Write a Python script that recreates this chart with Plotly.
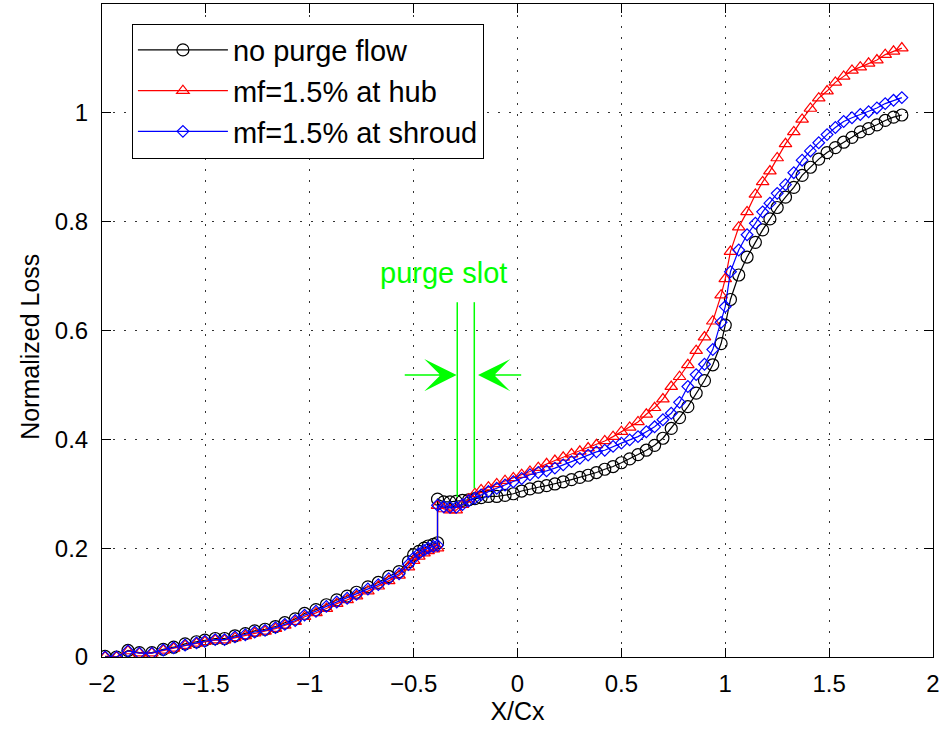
import plotly.graph_objects as go

# shared streamwise stations (X/Cx); the slot step appears twice at x=-0.385
x_pos = [-1.985, -1.93, -1.875, -1.82, -1.76, -1.705, -1.655, -1.60, -1.545, -1.505,
         -1.455, -1.41, -1.36, -1.31, -1.265, -1.215, -1.165, -1.12, -1.07, -1.025,
         -0.97, -0.92, -0.87, -0.82, -0.775, -0.72, -0.67, -0.62, -0.57, -0.525,
         -0.50, -0.475, -0.45, -0.43, -0.405, -0.385,
         -0.385, -0.355, -0.325, -0.295, -0.265, -0.235, -0.205, -0.175, -0.14, -0.10,
         -0.06, -0.02, 0.02, 0.06, 0.10, 0.14, 0.18, 0.22, 0.26, 0.30,
         0.34, 0.38, 0.42, 0.46, 0.50, 0.54, 0.58, 0.62, 0.66, 0.70,
         0.74, 0.78, 0.82, 0.86, 0.90, 0.94, 0.98, 1.00, 1.025, 1.065,
         1.105, 1.145, 1.18, 1.215, 1.25, 1.29, 1.33, 1.37, 1.41, 1.45,
         1.49, 1.53, 1.57, 1.61, 1.65, 1.69, 1.73, 1.77, 1.81, 1.85]

loss_no_purge = [0.001, 0.0, 0.012, 0.008, 0.008, 0.014, 0.018, 0.024, 0.028, 0.031,
                 0.034, 0.034, 0.039, 0.043, 0.048, 0.051, 0.056, 0.063, 0.070, 0.080,
                 0.087, 0.096, 0.105, 0.112, 0.119, 0.129, 0.137, 0.148, 0.157, 0.175,
                 0.188, 0.194, 0.200, 0.204, 0.207, 0.210,
                 0.290, 0.285, 0.285, 0.286, 0.288, 0.289, 0.291, 0.293, 0.295, 0.295,
                 0.297, 0.300, 0.305, 0.309, 0.312, 0.315, 0.318, 0.322, 0.326, 0.330,
                 0.334, 0.339, 0.345, 0.350, 0.357, 0.364, 0.372, 0.380, 0.389, 0.402,
                 0.420, 0.440, 0.460, 0.485, 0.508, 0.537, 0.576, 0.610, 0.657, 0.702,
                 0.735, 0.762, 0.785, 0.805, 0.826, 0.845, 0.863, 0.885, 0.900, 0.915,
                 0.927, 0.936, 0.946, 0.955, 0.965, 0.971, 0.978, 0.986, 0.992, 0.996]

loss_hub = [0.0, 0.0, 0.011, 0.007, 0.007, 0.012, 0.016, 0.021, 0.025, 0.028,
            0.031, 0.031, 0.035, 0.039, 0.044, 0.047, 0.052, 0.058, 0.065, 0.074,
            0.081, 0.089, 0.098, 0.105, 0.112, 0.121, 0.130, 0.140, 0.150, 0.165,
            0.177, 0.185, 0.191, 0.195, 0.198, 0.200,
            0.278, 0.272, 0.270, 0.270, 0.280, 0.290, 0.300, 0.307, 0.312, 0.318,
            0.324, 0.329, 0.335, 0.341, 0.348, 0.355, 0.361, 0.367, 0.373, 0.378,
            0.384, 0.390, 0.397, 0.405, 0.414, 0.422, 0.432, 0.446, 0.458, 0.474,
            0.497, 0.515, 0.537, 0.563, 0.588, 0.617, 0.665, 0.695, 0.745, 0.790,
            0.818, 0.850, 0.873, 0.893, 0.917, 0.943, 0.965, 0.988, 1.008, 1.027,
            1.040, 1.056, 1.067, 1.078, 1.084, 1.091, 1.097, 1.107, 1.113, 1.119]

loss_shroud = [0.0, 0.0, 0.011, 0.007, 0.007, 0.013, 0.017, 0.022, 0.026, 0.029,
               0.032, 0.032, 0.037, 0.041, 0.046, 0.049, 0.054, 0.060, 0.067, 0.077,
               0.084, 0.093, 0.101, 0.108, 0.115, 0.125, 0.133, 0.144, 0.153, 0.170,
               0.182, 0.190, 0.196, 0.200, 0.203, 0.205,
               0.279, 0.276, 0.275, 0.275, 0.280, 0.287, 0.292, 0.298, 0.304, 0.310,
               0.316, 0.322, 0.328, 0.335, 0.339, 0.342, 0.347, 0.353, 0.359, 0.365,
               0.371, 0.377, 0.380, 0.387, 0.393, 0.399, 0.405, 0.414, 0.423, 0.436,
               0.448, 0.468, 0.497, 0.519, 0.538, 0.565, 0.615, 0.644, 0.708, 0.748,
               0.776, 0.797, 0.818, 0.834, 0.852, 0.868, 0.890, 0.913, 0.930, 0.945,
               0.960, 0.973, 0.984, 0.991, 0.997, 1.002, 1.009, 1.017, 1.023, 1.028]

series_names = ["no purge flow", "mf=1.5% at hub", "mf=1.5% at shroud"]
x_ticks = [-2, -1.5, -1, -0.5, 0, 0.5, 1, 1.5, 2]
y_ticks = [0, 0.2, 0.4, 0.6, 0.8, 1]

# purge slot annotation (data coordinates)
slot_edges = [-0.29, -0.208]
slot_top = 0.652
slot_bottoms = [0.294, 0.31]
arrow_y = 0.518
arrow_tips = [-0.293, -0.19]
arrow_tails = [-0.55, 0.025]
label_x, label_y = -0.354, 0.705

FONT = "Liberation Sans, Arial, sans-serif"
GREEN = "rgb(0,255,0)"

fig = go.Figure()
styles = [("black", "circle-open", 12), ("red", "triangle-up-open", 11), ("blue", "diamond-open", 9)]
for name, ys, (col, sym, sz) in zip(series_names, [loss_no_purge, loss_hub, loss_shroud], styles):
    fig.add_trace(go.Scatter(
        x=x_pos, y=ys, name=name, mode="lines+markers",
        line=dict(color=col, width=1.2),
        marker=dict(symbol=sym, size=sz, color=col, line=dict(color=col, width=1.2)),
    ))

# slot walls
for xe, yb in zip(slot_edges, slot_bottoms):
    fig.add_shape(type="line", xref="x", yref="y", x0=xe, x1=xe, y0=yb, y1=slot_top,
                  line=dict(color=GREEN, width=1.5))

# arrows
for tip, tail in zip(arrow_tips, arrow_tails):
    fig.add_annotation(x=tip, y=arrow_y, ax=tail, ay=arrow_y, xref="x", yref="y",
                       axref="x", ayref="y", text="", showarrow=True,
                       arrowhead=3, arrowsize=3.6, arrowwidth=1.5, arrowcolor=GREEN)

fig.add_annotation(x=label_x, y=label_y, xref="x", yref="y", text="purge slot",
                   showarrow=False, font=dict(family=FONT, size=29, color=GREEN))

# y-axis title (placed as MATLAB drew it)
fig.add_annotation(x=-0.0866, y=0.57, xref="paper", yref="y", text="Normalized Loss",
                   textangle=-90, showarrow=False, xanchor="center", yanchor="middle",
                   font=dict(family=FONT, size=25, color="black"))

axis_common = dict(
    showline=True, linecolor="black", linewidth=1, mirror="ticks",
    ticks="inside", ticklen=9, tickcolor="black", tickwidth=1,
    showgrid=True, gridcolor="#333333", gridwidth=1, griddash="2px,9px",
    zeroline=False, tickfont=dict(family=FONT, size=24, color="black"),
)

fig.update_xaxes(range=[-2, 2], tickvals=x_ticks, ticklabelstandoff=5,
                 title=dict(text="X/Cx", font=dict(family=FONT, size=25, color="black"), standoff=4),
                 **axis_common)
fig.update_yaxes(range=[0, 1.2], tickvals=y_ticks, ticklabelstandoff=8,
                 **axis_common)

fig.update_layout(
    width=947, height=732,
    margin=dict(l=102, r=14, t=4, b=75),
    plot_bgcolor="white", paper_bgcolor="white",
    showlegend=True,
    legend=dict(x=0.036, y=0.97, xanchor="left", yanchor="top",
                bgcolor="white", bordercolor="black", borderwidth=1,
                font=dict(family=FONT, size=29, color="black"),
                itemwidth=90, tracegroupgap=0),
)

fig.write_html("out.html")
